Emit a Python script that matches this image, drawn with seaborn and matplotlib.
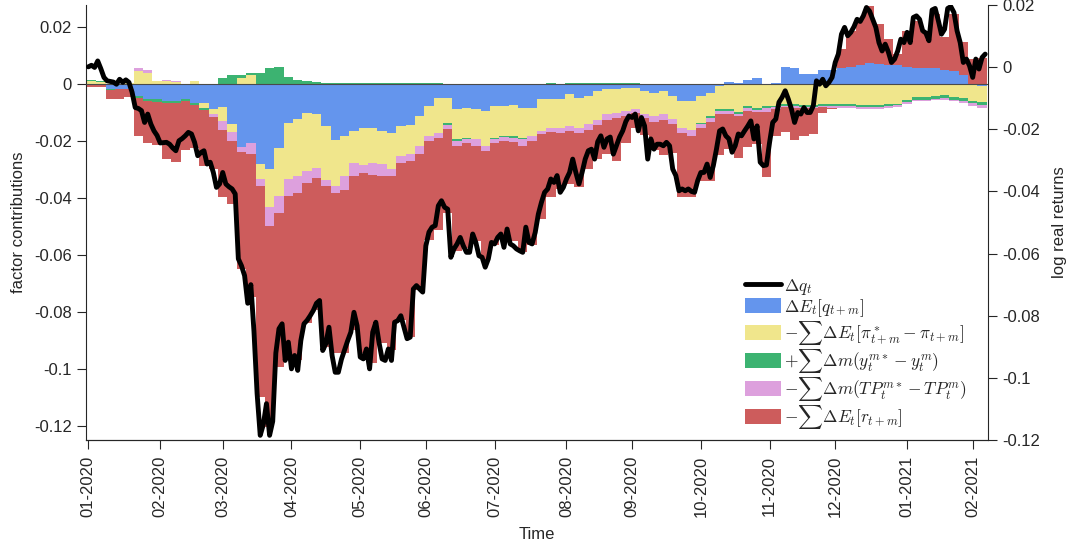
import numpy as np
import pandas as pd
import matplotlib
matplotlib.use('Agg')
import matplotlib.pyplot as plt
import seaborn as sns
from matplotlib.patches import Patch
from matplotlib.lines import Line2D

# ---------------- data ----------------
start_date = '2020-01-01'
n_days = 288

# daily log real return (right axis)
delta_q = [
    0.0001, 0.0006, -0.0001, 0.0020, -0.0005, -0.0033, -0.0044, -0.0046, -0.0048, -0.0055,
    -0.0039, -0.0049, -0.0041, -0.0049, -0.0081, -0.0130, -0.0133, -0.0140, -0.0178, -0.0151,
    -0.0183, -0.0205, -0.0220, -0.0244, -0.0243, -0.0242, -0.0248, -0.0260, -0.0269, -0.0237,
    -0.0230, -0.0221, -0.0210, -0.0215, -0.0242, -0.0285, -0.0275, -0.0269, -0.0312, -0.0306,
    -0.0339, -0.0387, -0.0376, -0.0339, -0.0376, -0.0385, -0.0392, -0.0408, -0.0617, -0.0639,
    -0.0671, -0.0760, -0.0700, -0.0850, -0.1050, -0.1185, -0.1150, -0.1083, -0.1185, -0.1140,
    -0.0920, -0.0842, -0.0826, -0.0944, -0.0885, -0.0971, -0.0928, -0.0976, -0.0880, -0.0826,
    -0.0815, -0.0800, -0.0783, -0.0760, -0.0751, -0.0912, -0.0890, -0.0837, -0.0928, -0.0982,
    -0.0982, -0.0940, -0.0910, -0.0880, -0.0853, -0.0789, -0.0832, -0.0933, -0.0939, -0.0907,
    -0.0971, -0.0853, -0.0821, -0.0885, -0.0939, -0.0944, -0.0907, -0.0944, -0.0821, -0.0816,
    -0.0800, -0.0837, -0.0874, -0.0869, -0.0714, -0.0703, -0.0714, -0.0724, -0.0575, -0.0531,
    -0.0515, -0.0510, -0.0446, -0.0430, -0.0451, -0.0457, -0.0612, -0.0585, -0.0569, -0.0548,
    -0.0575, -0.0596, -0.0596, -0.0537, -0.0564, -0.0607, -0.0612, -0.0644, -0.0617, -0.0564,
    -0.0569, -0.0548, -0.0537, -0.0580, -0.0521, -0.0569, -0.0575, -0.0585, -0.0591, -0.0596,
    -0.0515, -0.0564, -0.0569, -0.0532, -0.0473, -0.0435, -0.0403, -0.0392, -0.0360, -0.0371,
    -0.0349, -0.0403, -0.0387, -0.0360, -0.0339, -0.0296, -0.0339, -0.0376, -0.0339, -0.0296,
    -0.0269, -0.0264, -0.0296, -0.0240, -0.0221, -0.0258, -0.0231, -0.0225, -0.0280, -0.0253,
    -0.0225, -0.0205, -0.0175, -0.0157, -0.0162, -0.0151, -0.0205, -0.0162, -0.0189, -0.0296,
    -0.0231, -0.0264, -0.0248, -0.0248, -0.0253, -0.0242, -0.0253, -0.0328, -0.0349, -0.0398,
    -0.0392, -0.0398, -0.0392, -0.0400, -0.0403, -0.0365, -0.0339, -0.0339, -0.0312, -0.0355,
    -0.0317, -0.0264, -0.0205, -0.0199, -0.0221, -0.0231, -0.0274, -0.0253, -0.0215, -0.0221,
    -0.0205, -0.0190, -0.0173, -0.0231, -0.0189, -0.0306, -0.0317, -0.0315, -0.0242, -0.0178,
    -0.0167, -0.0113, -0.0097, -0.0076, -0.0103, -0.0135, -0.0178, -0.0146, -0.0151, -0.0130,
    -0.0146, -0.0146, -0.0124, -0.0044, -0.0055, -0.0039, -0.0060, -0.0049, -0.0033, 0.0015,
    0.0042, 0.0106, 0.0128, 0.0101, 0.0112, 0.0130, 0.0154, 0.0147, 0.0165, 0.0192,
    0.0180, 0.0154, 0.0128, 0.0079, 0.0052, 0.0074, 0.0049, 0.0015, 0.0026, 0.0052,
    0.0090, 0.0079, 0.0112, 0.0079, 0.0160, 0.0165, 0.0154, 0.0117, 0.0110, 0.0085,
    0.0184, 0.0189, 0.0150, 0.0106, 0.0122, 0.0189, 0.0195, 0.0176, 0.0117, 0.0079,
    0.0015, 0.0026, 0.0004, -0.0033, 0.0026, -0.0006, 0.0031, 0.0042,
]

# factor contributions, one value per 3 business days (left axis)
bar_day = list(range(0, 288, 3))
exp_q = [
    -0.0005, -0.0005, -0.0018, -0.0016, -0.0016, -0.0042, -0.0054, -0.0054, -0.0060, -0.0060, -0.0054, -0.0066,
    -0.0068, -0.0089, -0.0080, -0.0140, -0.0220, -0.0206, -0.0280, -0.0300, -0.0224, -0.0136, -0.0124, -0.0101,
    -0.0107, -0.0148, -0.0195, -0.0183, -0.0165, -0.0154, -0.0154, -0.0165, -0.0171, -0.0148, -0.0145, -0.0113,
    -0.0077, -0.0048, -0.0048, -0.0089, -0.0083, -0.0089, -0.0095, -0.0077, -0.0077, -0.0075, -0.0083, -0.0083,
    -0.0054, -0.0052, -0.0054, -0.0036, -0.0048, -0.0042, -0.0025, -0.0019, -0.0019, -0.0013, -0.0013, -0.0025,
    -0.0030, -0.0025, -0.0042, -0.0060, -0.0060, -0.0042, -0.0030, -0.0007, 0.0008, 0.0003, 0.0015, 0.0020,
    -0.0004, 0.0005, 0.0060, 0.0055, 0.0035, 0.0035, 0.0050, 0.0048, 0.0055, 0.0060, 0.0065, 0.0075,
    0.0070, 0.0065, 0.0065, 0.0060, 0.0055, 0.0055, 0.0055, 0.0050, 0.0045, 0.0030, -0.0005, -0.0008,
]
inflation = [
    0.0012, 0.0008, 0.0, 0.0, 0.0003, 0.0046, 0.0040, 0.0010, 0.0012, 0.0008, 0.0, 0.0010,
    -0.0018, -0.0018, -0.0050, -0.0030, 0.0020, 0.0030, -0.0055, -0.0130, -0.0170, -0.0199, -0.0199, -0.0205,
    -0.0188, -0.0188, -0.0164, -0.0141, -0.0111, -0.0129, -0.0123, -0.0117, -0.0129, -0.0105, -0.0102, -0.0105,
    -0.0105, -0.0123, -0.0090, -0.0105, -0.0105, -0.0105, -0.0123, -0.0111, -0.0105, -0.0108, -0.0105, -0.0100,
    -0.0111, -0.0102, -0.0100, -0.0111, -0.0105, -0.0100, -0.0100, -0.0088, -0.0082, -0.0082, -0.0076, -0.0082,
    -0.0082, -0.0082, -0.0082, -0.0094, -0.0100, -0.0094, -0.0082, -0.0082, -0.0089, -0.0100, -0.0077, -0.0083,
    -0.0073, -0.0077, -0.0071, -0.0072, -0.0075, -0.0075, -0.0071, -0.0072, -0.0072, -0.0072, -0.0075, -0.0075,
    -0.0075, -0.0072, -0.0070, -0.0055, -0.0045, -0.0045, -0.0042, -0.0040, -0.0045, -0.0050, -0.0055, -0.0057,
]
yield_gap = [
    0.0003, 0.0002, -0.0003, -0.0003, -0.0003, -0.0008, -0.0006, -0.0008, -0.0008, -0.0008, -0.0006, -0.0008,
    -0.0004, 0.0, 0.0020, 0.0030, 0.0010, 0.0010, 0.0040, 0.0055, 0.0060, 0.0025, 0.0015, 0.0012,
    0.0008, 0.0003, 0.0003, 0.0003, 0.0003, 0.0003, 0.0003, 0.0003, 0.0003, 0.0003, 0.0002, 0.0002,
    0.0002, 0.0002, -0.0007, -0.0006, -0.0005, 0.0, 0.0, -0.0004, -0.0005, -0.0005, -0.0004, 0.0,
    0.0, 0.0003, 0.0, 0.0002, 0.0002, 0.0002, 0.0002, 0.0002, 0.0002, 0.0002, 0.0002, 0.0,
    0.0, 0.0, 0.0, 0.0, 0.0, -0.0004, -0.0007, -0.0007, -0.0007, -0.0007, -0.0007, -0.0008,
    -0.0008, -0.0005, -0.0006, -0.0006, -0.0005, -0.0005, -0.0005, -0.0004, -0.0004, -0.0005, -0.0005, -0.0005,
    -0.0005, -0.0005, -0.0005, -0.0010, -0.0010, -0.0010, -0.0010, -0.0010, -0.0010, -0.0010, -0.0008, -0.0008,
]
term_premium = [
    0.0, 0.0, 0.0, 0.0, 0.0, 0.0010, 0.0008, 0.0, 0.0003, 0.0002, 0.0, 0.0,
    0.0, -0.0010, -0.0030, -0.0030, -0.0020, -0.0040, -0.0023, -0.0070, -0.0059, -0.0059, -0.0059, -0.0041,
    -0.0035, -0.0023, -0.0023, -0.0047, -0.0047, -0.0029, -0.0041, -0.0041, -0.0023, -0.0023, -0.0023, -0.0029,
    -0.0018, -0.0018, -0.0014, -0.0018, -0.0013, -0.0023, -0.0018, -0.0014, -0.0013, -0.0015, -0.0025, -0.0018,
    -0.0012, -0.0015, -0.0017, -0.0018, -0.0018, -0.0018, -0.0018, -0.0020, -0.0018, -0.0018, -0.0012, -0.0012,
    -0.0023, -0.0018, -0.0018, -0.0018, -0.0023, -0.0014, -0.0014, -0.0011, -0.0011, -0.0006, -0.0010, -0.0009,
    -0.0015, -0.0007, -0.0005, -0.0005, -0.0005, -0.0006, -0.0006, -0.0007, -0.0008, -0.0008, -0.0008, -0.0008,
    -0.0008, -0.0008, -0.0007, -0.0005, -0.0005, -0.0005, -0.0005, -0.0005, -0.0006, -0.0007, -0.0010, -0.0012,
]
real_rate = [
    -0.0005, -0.0005, -0.0033, -0.0035, -0.0025, -0.0133, -0.0146, -0.0153, -0.0194, -0.0206, -0.0170, -0.0150,
    -0.0198, -0.0183, -0.0236, -0.0220, -0.0410, -0.0500, -0.0739, -0.0704, -0.0539, -0.0574, -0.0586, -0.0492,
    -0.0462, -0.0562, -0.0563, -0.0574, -0.0540, -0.0633, -0.0662, -0.0587, -0.0610, -0.0551, -0.0616, -0.0475,
    -0.0346, -0.0323, -0.0292, -0.0367, -0.0369, -0.0333, -0.0384, -0.0358, -0.0340, -0.0347, -0.0373, -0.0365,
    -0.0296, -0.0226, -0.0199, -0.0187, -0.0191, -0.0138, -0.0119, -0.0120, -0.0153, -0.0094, -0.0052, -0.0061,
    -0.0096, -0.0125, -0.0100, -0.0226, -0.0215, -0.0185, -0.0207, -0.0143, -0.0122, -0.0145, -0.0126, -0.0109,
    -0.0225, -0.0094, -0.0085, -0.0112, -0.0098, -0.0091, -0.0019, -0.0006, 0.0067, 0.0126, 0.0168, 0.0199,
    0.0140, 0.0092, 0.0039, 0.0126, 0.0165, 0.0125, 0.0190, 0.0115, 0.0201, 0.0117, 0.0088, 0.0090,
]

series_labels = [
    r'$\Delta E_t[q_{t+m}]$',
    r'$-\sum\Delta E_t[\pi^*_{t+m}-\pi_{t+m}]$',
    r'$+\sum\Delta m(y_t^{m*}-y_t^{m})$',
    r'$-\sum\Delta m(TP_t^{m*}-TP_t^{m})$',
    r'$-\sum\Delta E_t[r_{t+m}]$',
]
line_label = r'$\Delta q_t$'
series_colors = ['#6495ED', '#F0E68C', '#3CB371', '#DDA0DD', '#CD5C5C']

left_ticks = [0.02, 0.0, -0.02, -0.04, -0.06, -0.08, -0.10, -0.12]
right_ticks = [0.02, 0.0, -0.02, -0.04, -0.06, -0.08, -0.10, -0.12]

# ---------------- plotting ----------------
sns.set_theme(style='white')
plt.rcParams['font.family'] = ['Liberation Sans', 'DejaVu Sans']
plt.rcParams['mathtext.fontset'] = 'cm'
plt.rcParams['axes.unicode_minus'] = False

dates = pd.bdate_range(start_date, periods=n_days)
days = np.arange(n_days)

fig = plt.figure(figsize=(10.73, 5.51), dpi=100)
ax = fig.add_axes([86 / 1073, 1 - 440 / 551, (987.7 - 86) / 1073, (440 - 5) / 551])
ax2 = ax.twinx()

all_series = [exp_q, inflation, yield_gap, term_premium, real_rate]
x_bar = np.asarray(bar_day, dtype=float) - 0.5
pos_base = np.zeros(len(bar_day))
neg_base = np.zeros(len(bar_day))
for vals, col in zip(all_series, series_colors):
    v = np.asarray(vals, dtype=float)
    bottom = np.where(v >= 0, pos_base, neg_base)
    ax.bar(x_bar, v, width=3, bottom=bottom, align='edge', color=col,
           edgecolor='none', linewidth=0, zorder=2)
    pos_base = pos_base + np.clip(v, 0, None)
    neg_base = neg_base + np.clip(v, None, 0)
ax.axhline(0, color='#4a4a4a', lw=0.8, zorder=3)

line_df = pd.DataFrame({'day': days, 'dq': delta_q})
sns.lineplot(data=line_df, x='day', y='dq', ax=ax2, color='black', lw=3.5, zorder=5)

# axes limits
ax.set_xlim(-0.75, 287.8)
ax.set_ylim(-0.1249, 0.0277)
ax2.set_ylim(-0.12, 0.02)

# x ticks at month starts
month_start = [i for i in range(n_days) if i == 0 or dates[i].month != dates[i - 1].month]
ax.set_xticks(month_start)
ax.set_xticklabels([dates[i].strftime('%m-%Y') for i in month_start], rotation=90)

ax.set_yticks(left_ticks)
ax.set_yticklabels([f'{t:g}' for t in left_ticks])
ax2.set_yticks(right_ticks)
ax2.set_yticklabels([f'{t:g}' for t in right_ticks])

tick_col = '#262626'
for a in (ax, ax2):
    a.tick_params(direction='out', length=6.5, width=0.8, colors=tick_col,
                  labelsize=12, pad=3.5)
    for s in a.spines.values():
        s.set_color(tick_col)
        s.set_linewidth(0.8)
    a.spines['top'].set_visible(False)
    a.grid(False)
ax.tick_params(axis='x', bottom=True, pad=5)
ax.tick_params(axis='y', left=True, right=False)
ax.spines['right'].set_visible(False)
ax2.spines['left'].set_visible(False)
ax2.tick_params(axis='y', right=True, left=False, pad=4)

ax.set_xlabel('Time', fontsize=12, color=tick_col)
ax.set_ylabel('factor contributions', fontsize=12, color=tick_col)
ax2.set_xlabel('')
ax2.set_ylabel('log real returns', fontsize=12, color=tick_col)
ax.xaxis.set_label_coords(0.5, -0.2)
ax.yaxis.set_label_coords(-0.0665, 0.5)
ax2.yaxis.set_label_coords(1.0713, 0.5)

# legend
handles = [Line2D([0], [0], color='black', lw=3.5)]
handles += [Patch(facecolor=c, edgecolor='none') for c in series_colors]
labels = [line_label] + series_labels
leg = fig.legend(handles, labels, loc='upper left',
                 bbox_to_anchor=(745 / 1073, 1 - 277 / 551),
                 bbox_transform=fig.transFigure, frameon=False,
                 fontsize=12.5, handlelength=2.1, handleheight=0.95,
                 handletextpad=0.15, labelspacing=0.0, borderpad=0, borderaxespad=0)
for t in leg.get_texts():
    t.set_color(tick_col)

fig.savefig('out.png', dpi=100)
